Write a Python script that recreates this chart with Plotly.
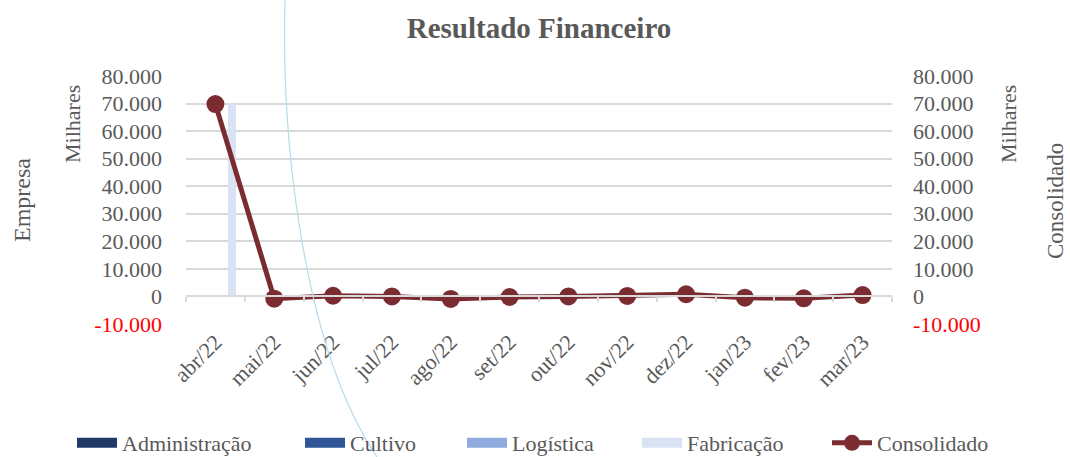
import plotly.graph_objects as go

# ---- data ----
months = ["abr/22", "mai/22", "jun/22", "jul/22", "ago/22", "set/22",
          "out/22", "nov/22", "dez/22", "jan/23", "fev/23", "mar/23"]
administracao = [0, 0, 0, 0, 0, 0, 0, 0, 0, 0, 0, 0]
cultivo = [0, 0, 0, 0, 0, 0, 0, 0, 0, 0, 0, 0]
logistica = [0, 0, 0, 0, 0, 0, 0, 0, 0, 0, 0, 0]
fabricacao = [70000, 0, 0, 0, 0, 0, 0, 0, 0, 0, 0, 0]
consolidado = [69800, -800, 250, 0, -900, -200, 0, 200, 800, -450, -700, 500]
y_tickvals = [-10000, 0, 10000, 20000, 30000, 40000, 50000, 60000, 70000, 80000]
y_ticktext = ["-10.000", "0", "10.000", "20.000", "30.000", "40.000",
              "50.000", "60.000", "70.000", "80.000"]

# ---- style ----
FONT = "Liberation Serif"
GRAY = "#595959"
GRID = "#d9d9d9"
LINE = "#7b2c31"
W, H = 1070, 457
L, R, T, B = 186, 178, 76, 133
PW, PH = W - L - R, H - T - B


def px_x(p):
    return (p - L) / PW


def px_y(p):
    return (H - B - p) / PH


tick_labels = [f'<span style="color:#ff0000">{t}</span>' if t.startswith("-") else t
               for t in y_ticktext]

fig = go.Figure()
bar_series = [("Administração", administracao, "#1f3864"),
              ("Cultivo", cultivo, "#2f5597"),
              ("Logística", logistica, "#8faadc"),
              ("Fabricação", fabricacao, "#dae3f3")]
legend_ids = ["legend", "legend2", "legend3", "legend4", "legend5"]
legend_px = [80, 308, 470, 645, 835]

for name, vals, col in bar_series:
    fig.add_trace(go.Bar(x=months, y=vals, name=name, marker_color=col,
                         marker_line_width=0, xaxis="x", yaxis="y",
                         showlegend=False, legendgroup=name))
# wide legend swatches for the bar series
for i, (name, vals, col) in enumerate(bar_series):
    fig.add_trace(go.Scatter(x=[None], y=[None], name=name, mode="lines",
                             line=dict(color=col, width=14), xaxis="x",
                             yaxis="y", legendgroup=name, showlegend=True,
                             legend=legend_ids[i]))

fig.add_trace(go.Scatter(x=months, y=consolidado, name="Consolidado",
                         mode="lines+markers", xaxis="x2", yaxis="y2",
                         line=dict(color=LINE, width=5),
                         marker=dict(color=LINE, size=18),
                         legend=legend_ids[4]))

rng = [-10000, 80000]
legends = {}
for lid, lx in zip(legend_ids, legend_px):
    legends[lid] = dict(orientation="h", x=px_x(lx - 8), xanchor="left",
                        y=px_y(443), yanchor="middle", bgcolor="rgba(0,0,0,0)",
                        font=dict(family=FONT, size=22, color=GRAY),
                        itemwidth=40)

fig.update_layout(
    width=W, height=H,
    margin=dict(l=L, r=R, t=T, b=B, autoexpand=False),
    paper_bgcolor="white", plot_bgcolor="white",
    font=dict(family=FONT, color=GRAY, size=20),
    barmode="group", bargap=0.25, bargroupgap=0.27,
    title=dict(text="<b>Resultado Financeiro</b>", x=0.5, xanchor="center",
               xref="paper", y=1 - 28 / H, yanchor="middle", yref="container",
               font=dict(family=FONT, size=29, color=GRAY)),
    xaxis=dict(type="category", categoryorder="array", categoryarray=months,
               range=[-0.5, 11.5], showgrid=False, showline=False, ticks="",
               tickangle=-45, tickfont=dict(family=FONT, size=22, color=GRAY),
               anchor="y"),
    xaxis2=dict(type="category", categoryorder="array", categoryarray=months,
                range=[-0.5, 11.5], overlaying="x", anchor="free",
                position=10000 / 90000, showgrid=False, showline=True,
                linecolor=GRID, linewidth=2, ticks="outside", ticklen=5,
                tickcolor=GRID, tickwidth=2, tickson="boundaries",
                showticklabels=False),
    yaxis=dict(range=rng, tickvals=y_tickvals, ticktext=tick_labels,
               showgrid=True, gridcolor=GRID, gridwidth=2, zeroline=False,
               showline=False, ticks="", ticklabelstandoff=23,
               tickfont=dict(family=FONT, size=22, color=GRAY)),
    yaxis2=dict(range=rng, tickvals=y_tickvals, ticktext=tick_labels,
                overlaying="y", side="right", anchor="x", showgrid=False,
                zeroline=False, showline=False, ticks="", ticklabelstandoff=20,
                tickfont=dict(family=FONT, size=22, color=GRAY)),
    showlegend=True,
    **legends,
)

annots = [("Empresa", 22, 200, 24), ("Milhares", 72, 124, 22),
          ("Milhares", 1008, 124, 22), ("Consolidado", 1055, 201, 23)]
for txt, ax, ay, fs in annots:
    fig.add_annotation(text=txt, x=px_x(ax), y=px_y(ay), xref="paper",
                       yref="paper", showarrow=False, textangle=-90,
                       font=dict(family=FONT, size=fs, color=GRAY),
                       xanchor="center", yanchor="middle", borderpad=0)

# thin light-blue arc visible across the picture
p0, c1, c2, p3 = (285, 0), (281, 150), (305, 350), (377, 457)
path = "M {} {} C {} {} {} {} {} {}".format(
    px_x(p0[0]), px_y(p0[1]), px_x(c1[0]), px_y(c1[1]),
    px_x(c2[0]), px_y(c2[1]), px_x(p3[0]), px_y(p3[1]))
fig.add_shape(type="path", path=path, xref="paper", yref="paper",
              line=dict(color="#b7dbe8", width=1.2), layer="above")

fig.write_html("out.html", config={"displayModeBar": False},
               post_script="document.body.style.margin='0';"
                           "document.body.style.overflow='hidden';")
